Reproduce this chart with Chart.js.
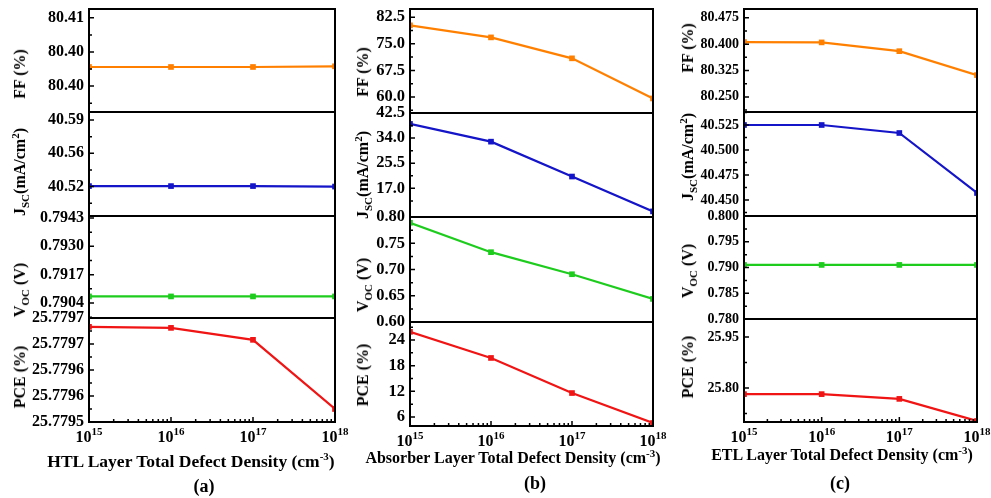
<!DOCTYPE html>
<html><head><meta charset="utf-8">
<script src="https://cdn.jsdelivr.net/npm/chart.js@4.4.0/dist/chart.umd.min.js"></script>
<style>
html,body{margin:0;padding:0;background:#fff;}
#wrap{position:relative;width:991px;height:498px;overflow:hidden;font-family:"Liberation Serif","Times New Roman",serif;font-weight:bold;color:#000;}
canvas{position:absolute;}
.t{position:absolute;white-space:nowrap;font-size:16px;line-height:1;transform:translate(-50%,-50%);}
.r{transform:translate(-50%,-50%) rotate(-90deg);}
.t sub,.t sup{font-size:11px;line-height:0;}
.p{font-size:18px;}
</style></head><body><div id="wrap"></div>
<script>
// ---------- data ----------
const defectDensity = [1e15, 1e16, 1e17, 1e18];

// (a) HTL layer
const htlFF  = [80.3978, 80.3978, 80.3978, 80.3979];
const htlJsc = [40.5205, 40.5205, 40.5205, 40.5200];
const htlVoc = [0.7907, 0.7907, 0.7907, 0.7907];
const htlPce = [25.779683, 25.779681, 25.779658, 25.779525];

// (b) Absorber layer
const absFF  = [80.2, 76.8, 70.9, 59.6];
const absJsc = [38.8, 32.8, 21.0, 9.2];
const absVoc = [0.789, 0.733, 0.691, 0.644];
const absPce = [25.9, 19.8, 11.6, 4.6];

// (c) ETL layer
const etlFF  = [80.406, 80.405, 80.380, 80.312];
const etlJsc = [40.525, 40.525, 40.517, 40.457];
const etlVoc = [0.7905, 0.7905, 0.7905, 0.7905];
const etlPce = [25.782, 25.782, 25.768, 25.703];

// y tick values / labels / axis limits
const htlFFTicks  = [80.395, 80.400, 80.405];           const htlFFLabels  = ["80.40", "80.40", "80.41"];
const htlJscTicks = [40.52, 40.555, 40.59];              const htlJscLabels = ["40.52", "40.56", "40.59"];
const htlVocTicks = [0.7904, 0.7917, 0.7930, 0.7943];    const htlVocLabels = ["0.7904", "0.7917", "0.7930", "0.7943"];
const htlPceTicks = [25.7795, 25.77955, 25.7796, 25.77965, 25.7797];
const htlPceLabels = ["25.7795", "25.7796", "25.7796", "25.7797", "25.7797"];
const htlFFRange = [80.3912, 80.4063], htlJscRange = [40.489, 40.5985], htlVocRange = [0.78971, 0.79439], htlPceRange = [25.7795, 25.7797];

const absFFTicks  = [60.0, 67.5, 75.0, 82.5];   const absFFLabels  = ["60.0", "67.5", "75.0", "82.5"];
const absJscTicks = [17.0, 25.5, 34.0, 42.5];   const absJscLabels = ["17.0", "25.5", "34.0", "42.5"];
const absVocTicks = [0.60, 0.65, 0.70, 0.75, 0.80]; const absVocLabels = ["0.60", "0.65", "0.70", "0.75", "0.80"];
const absPceTicks = [6, 12, 18, 24];             const absPceLabels = ["6", "12", "18", "24"];
const absFFRange = [55.5, 84.8], absJscRange = [7.3, 42.5], absVocRange = [0.60, 0.80], absPceRange = [3.9, 28.2];

const etlFFTicks  = [80.250, 80.325, 80.400, 80.475]; const etlFFLabels  = ["80.250", "80.325", "80.400", "80.475"];
const etlJscTicks = [40.450, 40.475, 40.500, 40.525]; const etlJscLabels = ["40.450", "40.475", "40.500", "40.525"];
const etlVocTicks = [0.780, 0.785, 0.790, 0.795, 0.800]; const etlVocLabels = ["0.780", "0.785", "0.790", "0.795", "0.800"];
const etlPceTicks = [25.80, 25.95];                   const etlPceLabels = ["25.80", "25.95"];
const etlFFRange = [80.207, 80.500], etlJscRange = [40.434, 40.538], etlVocRange = [0.780, 0.800], etlPceRange = [25.700, 26.003];

const xMajorExponents = [15, 16, 17, 18];

// ---------- styling / layout ----------
const COLORS = {FF: '#FF8000', JSC: '#1414C8', VOC: '#1ECC1E', PCE: '#F01414'};
const FONT = '"Liberation Serif", "Times New Roman", serif';
const YW = 70, PADT = 12, PADB = 12, PADR = 22, XLAB = 32;

const columns = [
  {L: 89, R: 335, rows: [9, 112, 216, 318, 422], tickSize: 16, xTitleSize: 17.5, xTitle: 'HTL Layer Total Defect Density (cm<sup>-3</sup>)', xt: [191, 462], tag: '(a)', tagPos: [204, 486], titleX: 20, titleY: [74, 172, 290, 377],
   panels: [
     {key: 'FF', data: htlFF, ticks: htlFFTicks, labels: htlFFLabels, range: htlFFRange},
     {key: 'JSC', data: htlJsc, ticks: htlJscTicks, labels: htlJscLabels, range: htlJscRange},
     {key: 'VOC', data: htlVoc, ticks: htlVocTicks, labels: htlVocLabels, range: htlVocRange},
     {key: 'PCE', data: htlPce, ticks: htlPceTicks, labels: htlPceLabels, range: htlPceRange}]},
  {L: 410, R: 653, rows: [9, 113, 217, 322, 426], tickSize: 16.5, xTitleSize: 16, xTitle: 'Absorber Layer Total Defect Density (cm<sup>-3</sup>)', xt: [513, 458], tag: '(b)', tagPos: [535, 483], titleX: 363, titleY: [72, 175, 285, 375],
   panels: [
     {key: 'FF', data: absFF, ticks: absFFTicks, labels: absFFLabels, range: absFFRange},
     {key: 'JSC', data: absJsc, ticks: absJscTicks, labels: absJscLabels, range: absJscRange},
     {key: 'VOC', data: absVoc, ticks: absVocTicks, labels: absVocLabels, range: absVocRange},
     {key: 'PCE', data: absPce, ticks: absPceTicks, labels: absPceLabels, range: absPceRange}]},
  {L: 744, R: 977, rows: [9, 112, 216, 319, 422], tickSize: 14, xTitleSize: 16, xTitle: 'ETL Layer Total Defect Density (cm<sup>-3</sup>)', xt: [842, 455], tag: '(c)', tagPos: [840, 483], titleX: 688, titleY: [48, 157, 271, 367],
   panels: [
     {key: 'FF', data: etlFF, ticks: etlFFTicks, labels: etlFFLabels, range: etlFFRange},
     {key: 'JSC', data: etlJsc, ticks: etlJscTicks, labels: etlJscLabels, range: etlJscRange},
     {key: 'VOC', data: etlVoc, ticks: etlVocTicks, labels: etlVocLabels, range: etlVocRange},
     {key: 'PCE', data: etlPce, ticks: etlPceTicks, labels: etlPceLabels, range: etlPceRange}]}
];

const yTitles = {
  FF: 'FF (%)',
  JSC: 'J<sub>SC</sub>(mA/cm<sup>2</sup>)',
  VOC: 'V<sub>OC</sub> (V)',
  PCE: 'PCE (%)'
};

const wrap = document.getElementById('wrap');

function framePlugin(yTicks, showX) {
  return {
    id: 'frame',
    afterDraw(chart) {
      const ctx = chart.ctx, a = chart.chartArea, ys = chart.scales.y, xs = chart.scales.x;
      ctx.save();
      ctx.strokeStyle = '#000';
      ctx.lineWidth = 1.5;
      ctx.beginPath();
      yTicks.forEach(v => {
        const p = ys.getPixelForValue(v);
        ctx.moveTo(a.left, p); ctx.lineTo(a.left + 5, p);
      });
      const step = yTicks.length > 1 ? yTicks[1] - yTicks[0] : 0.15;
      for (let i = -1; i < yTicks.length; i++) {
        const v = yTicks[0] + (i + 0.5) * step;
        if (v > ys.min && v < ys.max) {
          const p = ys.getPixelForValue(v);
          ctx.moveTo(a.left, p); ctx.lineTo(a.left + 3, p);
        }
      }
      if (showX) {
        for (let e = xMajorExponents[0]; e <= xMajorExponents[xMajorExponents.length - 1]; e++) {
          for (let m = 1; m <= 9; m++) {
            const v = m * Math.pow(10, e);
            if (v > xs.max * 1.0001) break;
            const p = xs.getPixelForValue(v);
            ctx.moveTo(p, a.bottom); ctx.lineTo(p, a.bottom - (m === 1 ? 5 : 3));
          }
        }
      }
      ctx.stroke();
      ctx.lineWidth = 2;
      ctx.strokeRect(a.left, a.top, a.right - a.left, a.bottom - a.top);
      if (showX) {
        ctx.fillStyle = '#000';
        ctx.textBaseline = 'middle';
        ctx.textAlign = 'left';
        xMajorExponents.forEach(e => {
          const p = xs.getPixelForValue(Math.pow(10, e));
          ctx.font = 'bold 16px ' + FONT;
          const w1 = ctx.measureText('10').width;
          ctx.font = 'bold 11px ' + FONT;
          const w2 = ctx.measureText(String(e)).width;
          const s = p - (w1 + w2) / 2;
          ctx.font = 'bold 16px ' + FONT;
          ctx.fillText('10', s, a.bottom + 16);
          ctx.font = 'bold 11px ' + FONT;
          ctx.fillText(String(e), s + w1, a.bottom + 10);
        });
      }
      ctx.restore();
    }
  };
}

columns.forEach(col => {
  col.panels.forEach((pn, i) => {
    const top = col.rows[i], bottom = col.rows[i + 1];
    const last = i === col.panels.length - 1;
    const padB = last ? XLAB : PADB;
    const cv = document.createElement('canvas');
    const w = col.R - col.L + YW + PADR;
    const h = bottom - top + PADT + padB;
    cv.width = w; cv.height = h;
    cv.style.left = (col.L - YW) + 'px';
    cv.style.top = (top - PADT) + 'px';
    cv.style.width = w + 'px'; cv.style.height = h + 'px';
    wrap.appendChild(cv);
    const color = COLORS[pn.key];
    new Chart(cv, {
      type: 'line',
      data: {
        datasets: [{
          data: defectDensity.map((x, k) => ({x: x, y: pn.data[k]})),
          borderColor: color, backgroundColor: color,
          borderWidth: 2.2, pointStyle: 'rect', pointRadius: 4, pointBorderWidth: 0,
          tension: 0, fill: false
        }]
      },
      options: {
        responsive: false, animation: false, devicePixelRatio: 1,
        layout: {padding: {left: 0, top: PADT, right: PADR, bottom: padB}},
        plugins: {legend: {display: false}, tooltip: {enabled: false}},
        scales: {
          x: {type: 'logarithmic', min: defectDensity[0], max: defectDensity[defectDensity.length - 1], display: false},
          y: {
            type: 'linear', min: pn.range[0], max: pn.range[1],
            grid: {display: false, drawTicks: false}, border: {display: false},
            afterBuildTicks: s => { s.ticks = pn.ticks.map(v => ({value: v})); },
            afterFit: s => { s.width = YW; s.paddingTop = 0; s.paddingBottom = 0; },
            ticks: {
              autoSkip: false, padding: 5, color: '#000',
              font: {family: FONT, size: col.tickSize, weight: 'bold'},
              callback: (v, idx) => pn.labels[idx]
            }
          }
        }
      },
      plugins: [framePlugin(pn.ticks, last)]
    });

    const d = document.createElement('div');
    d.className = 't r';
    d.innerHTML = yTitles[pn.key];
    d.style.left = col.titleX + 'px';
    d.style.top = col.titleY[i] + 'px';
    wrap.appendChild(d);
  });
  const xt = document.createElement('div');
  xt.className = 't';
  xt.innerHTML = col.xTitle;
  xt.style.fontSize = col.xTitleSize + 'px';
  xt.style.left = col.xt[0] + 'px'; xt.style.top = col.xt[1] + 'px';
  wrap.appendChild(xt);
  const tg = document.createElement('div');
  tg.className = 't p';
  tg.textContent = col.tag;
  tg.style.left = col.tagPos[0] + 'px'; tg.style.top = col.tagPos[1] + 'px';
  wrap.appendChild(tg);
});
</script></body></html>
